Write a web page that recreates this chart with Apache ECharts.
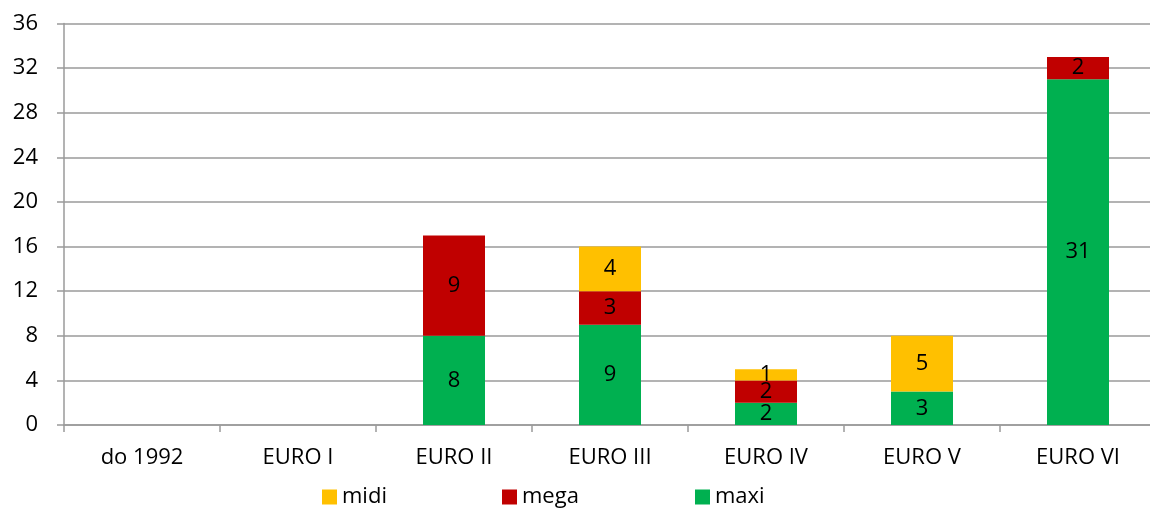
<!DOCTYPE html>
<html><head><meta charset="utf-8">
<script src="https://cdn.jsdelivr.net/npm/echarts@6/dist/echarts.min.js"></script>
<style>html,body{margin:0;padding:0;background:#fff;overflow:hidden;width:1150px;height:509px}#c{width:1160px;height:509px}</style>
</head><body><div id="c"></div>
<script>
const categories = ['do 1992','EURO I','EURO II','EURO III','EURO IV','EURO V','EURO VI'];
const maxi = [0,0,8,9,2,3,31];
const mega = [0,0,9,3,2,0,2];
const midi = [0,0,0,4,1,5,0];
const yTicks = {min:0, max:36, interval:4};

const font = '"Open Sans", sans-serif';
const grayLine = '#9a9a9a';
const lbl = {show:true, position:'inside', color:'#000', fontSize:22, fontFamily:font,
  formatter:p => p.value === 0 ? '' : String(p.value)};
function ser(name, data, color){
  return {name, type:'bar', stack:'s', data, barWidth:62, itemStyle:{color}, label:lbl,
    emphasis:{disabled:true}};
}
const chart = echarts.init(document.getElementById('c'));
const legendBase = {top:486, padding:0, itemWidth:15, itemHeight:15, icon:'rect',
  textStyle:{fontSize:22, fontFamily:font, color:'#000'}, itemGap:8, selectedMode:false};
chart.setOption({
  animation:false,
  grid:{left:64, width:1092, top:23.5, height:401.5},
  legend:[
    Object.assign({left:322, data:['midi']}, legendBase),
    Object.assign({left:502, data:['mega']}, legendBase),
    Object.assign({left:695, data:['maxi']}, legendBase)
  ],
  xAxis:{type:'category', data:categories,
    axisLine:{lineStyle:{color:grayLine, width:1.5}},
    axisTick:{show:true, length:7, lineStyle:{color:grayLine, width:1.5}},
    axisLabel:{color:'#000', fontSize:22, fontFamily:font, margin:22}},
  yAxis:{type:'value', min:yTicks.min, max:yTicks.max, interval:yTicks.interval,
    axisLine:{show:true, lineStyle:{color:grayLine, width:1.5}},
    axisTick:{show:true, length:7, lineStyle:{color:grayLine, width:1.5}},
    splitLine:{lineStyle:{color:grayLine, width:1.5}},
    axisLabel:{color:'#000', fontSize:22, fontFamily:font, margin:26}},
  series:[
    ser('maxi', maxi, '#00b050'),
    ser('mega', mega, '#c00000'),
    ser('midi', midi, '#ffc000')
  ]
});
</script></body></html>
